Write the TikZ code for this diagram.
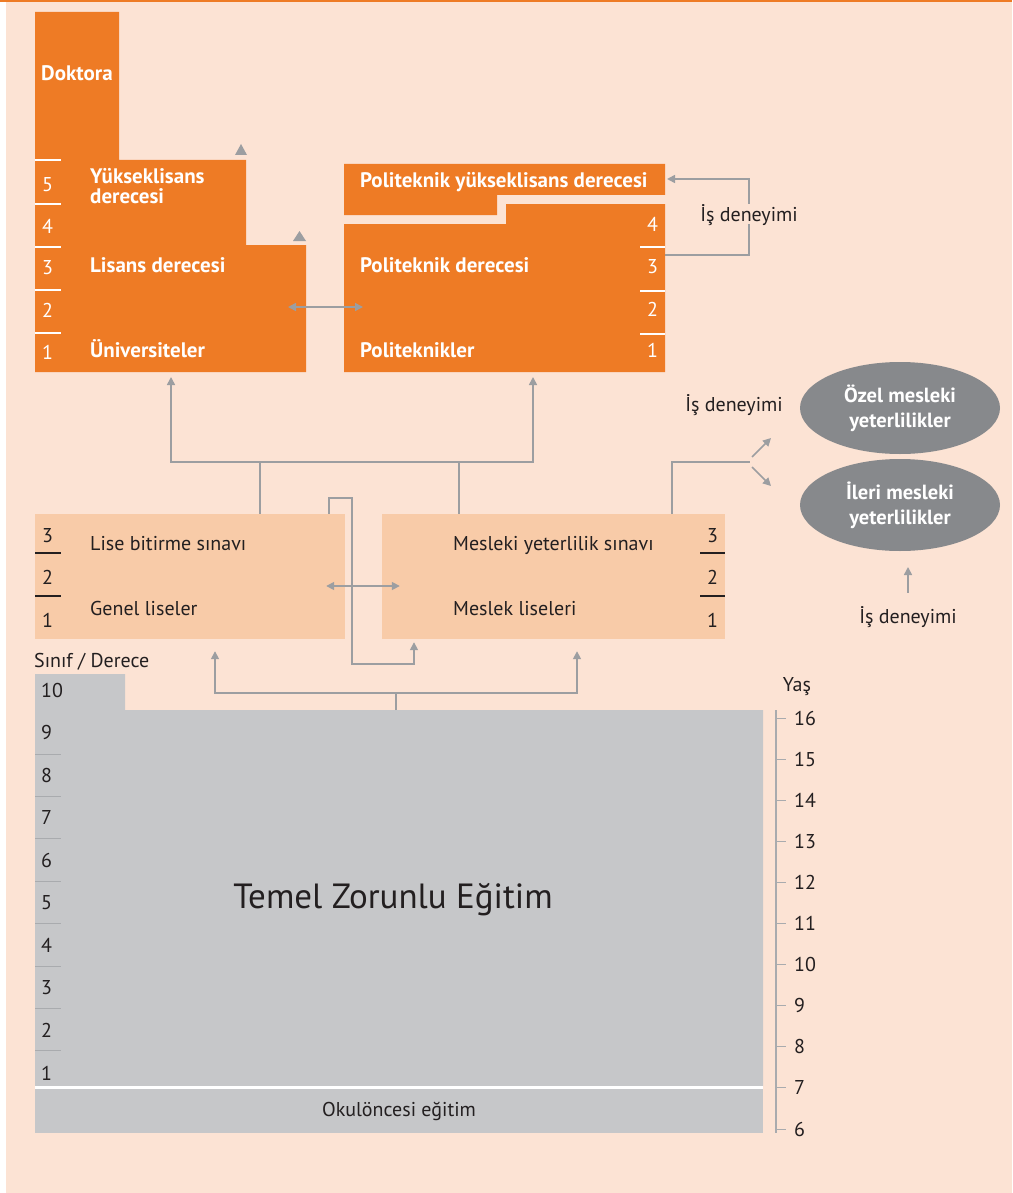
\documentclass[tikz,border=0pt]{standalone}
\usepackage{fontspec}
\setmainfont{PT Sans}
\usetikzlibrary{arrows.meta, shapes.geometric}

\definecolor{peach}{HTML}{FCE3D4}
\definecolor{orng}{HTML}{EE7B25}
\definecolor{lpeach}{HTML}{F8CBA8}
\definecolor{lgray}{HTML}{C6C7C9}
\definecolor{dgray}{HTML}{87898C}
\definecolor{wiregray}{HTML}{9C9EA1}
\definecolor{tickgray}{HTML}{A9ABAE}
\definecolor{ink}{HTML}{231F20}

\begin{document}
\begin{tikzpicture}[x=1pt, y=-1pt,
  wireline/.style={draw=wiregray, line width=1.6pt},
  arr/.style={wireline, -{Triangle[length=8pt, width=8pt]}},
  darr/.style={wireline, {Triangle[length=8pt, width=8pt]}-{Triangle[length=8pt, width=8pt]}},
  txt/.style={font=\fontsize{20}{22}\selectfont, text=ink, inner sep=0pt, text height=14pt, text depth=0pt},
  wtxt/.style={txt, text=white, font=\bfseries\fontsize{21}{22}\selectfont},
  num/.style={txt, anchor=west},
  wnum/.style={num, text=white},
  gapnode/.style={txt, inner sep=3pt},
  lisebox/.style={fill=lpeach, inner sep=0pt, minimum height=125pt},
  oval/.style={ellipse, fill=dgray, minimum width=200pt, minimum height=92pt, inner sep=0pt,
    text=white, align=center, font=\bfseries\fontsize{20.5}{25}\selectfont}]
\useasboundingbox (0,0) rectangle (1012,1193);
\fill[peach] (6,0) rectangle (1012,1193);
\draw[orng, line width=2pt] (0,1) -- (1012,1);

\fill[orng] (35,12) -- (119,12) -- (119,160) -- (246,160) -- (246,245) -- (306,245) -- (306,372) -- (35,372) -- cycle;
\foreach \y in {160,204,247,290,333}
  \draw[white, line width=1.3pt] (35,\y) -- (61,\y);
\foreach \n/\y in {5/184,4/226,3/267,2/310,1/352}
  \node[wnum] (u\n) at (42,\y) {\n};
\node[wtxt, anchor=west] (dok) at (41,74) {Doktora};
\node[text=white, inner sep=0pt, anchor=west, align=left, font=\bfseries\fontsize{21}{20}\selectfont] (ylis) at (90,186) {Yükseklisans\\derecesi};
\node[wtxt, anchor=west] (lis) at (90,265) {Lisans derecesi};
\node[wtxt, anchor=west] (uni) at (90,350) {Üniversiteler};
\fill[wiregray] (235,155) -- (247,155) -- (241,144) -- cycle;
\fill[wiregray] (293,241) -- (306,241) -- (299.5,231) -- cycle;

\fill[orng] (344,164) -- (665,164) -- (665,195) -- (497,195) -- (497,215) -- (344,215) -- cycle;
\fill[orng] (344,224) -- (506,224) -- (506,204) -- (665,204) -- (665,372) -- (344,372) -- cycle;
\foreach \y in {247,291,334}
  \draw[white, line width=1.3pt] (640,\y) -- (665,\y);
\foreach \n/\y in {4/224,3/266,2/309,1/350}
  \node[wnum] (p\n) at (647,\y) {\n};
\node[wtxt, anchor=west] (pyl) at (360,181) {Politeknik yükseklisans derecesi};
\node[wtxt, anchor=west] (pder) at (360,265) {Politeknik derecesi};
\node[wtxt, anchor=west] (pol) at (360,350) {Politeknikler};

\coordinate (uniB) at (171,377);
\coordinate (polB) at (533,377);
\coordinate (uniIn) at (288,307);
\coordinate (polIn) at (363,307);
\coordinate (polR) at (665,255);
\coordinate (polTop) at (667,179);
\node[gapnode] (isd1) at (749,214) {İş deneyimi};
\draw[arr] (polR) -| (isd1) |- (polTop);
\draw[darr] (uniIn) -- (polIn);

\node[lisebox, minimum width=310pt] (gen) at (190,576.5) {};
\node[lisebox, minimum width=343pt] (mes) at (553.5,576.5) {};
\foreach \y in {553,596} {
  \draw[ink, line width=1.2pt] (35,\y) -- (61,\y);
  \draw[ink, line width=1.2pt] (700,\y) -- (725,\y);
}
\foreach \n/\y in {3/535,2/577,1/620} {
  \node[num] (g\n) at (42,\y) {\n};
  \node[num] (m\n) at (707,\y) {\n};
}
\node[txt, anchor=west] (lbs) at (90,543) {Lise bitirme sınavı};
\node[txt, anchor=west] (gl) at (90,608) {Genel liseler};
\node[txt, anchor=west] (mys) at (453,543) {Mesleki yeterlilik sınavı};
\node[txt, anchor=west] (ml) at (453,608) {Meslek liseleri};

\coordinate (upL) at (171,462);
\coordinate (upR) at (533,462);
\coordinate (gS) at ([xshift=70pt]gen.north);
\coordinate (mS) at ([xshift=-94.5pt]mes.north);
\draw[wireline] (gS) -- (gS |- upL);
\draw[wireline] (mS) -- (mS |- upL);
\draw[arr] (upR) -| (uniB);
\draw[arr] (upL) -| (polB);

\coordinate (gC) at ([xshift=139pt]gen.north);
\coordinate (mC) at ([xshift=-139.5pt]mes.south);
\coordinate (crossTop) at (352,498);
\coordinate (crossBot) at (352,664);
\draw[arr, shorten >=3pt] (gC) |- (crossTop) -- (crossBot) -| (mC);
\draw[darr] ([shift={(-19pt,-9.5pt)}]gen.east) -- ([shift={(18pt,-9.5pt)}]mes.west);

\coordinate (mO) at ([xshift=118.5pt]mes.north);
\coordinate (fork) at (750,462);
\draw[wireline] (mO) |- (fork);
\draw[arr] ([shift={(2pt,5pt)}]fork) -- ([shift={(21pt,24pt)}]fork);
\draw[arr] ([shift={(2pt,-5pt)}]fork) -- ([shift={(21pt,-24pt)}]fork);

\node[oval] (ozel) at (900,408) {Özel mesleki\\yeterlilikler};
\node[oval] (ileri) at (900,505) {İleri mesleki\\yeterlilikler};
\node[txt] (isd2) at (734,404) {İş deneyimi};
\node[txt] (isd3) at (908,616) {İş deneyimi};
\coordinate (ileriU) at (908,567);
\draw[arr, shorten <=16pt] (isd3) -- (ileriU);

\node[txt, anchor=west] (sinif) at (34,660) {Sınıf / Derece};
\fill[lgray] (35,674) -- (125,674) -- (125,710) -- (763,710) -- (763,1086) -- (35,1086) -- cycle;
\fill[white] (35,1086) rectangle (763,1089);
\node[fill=lgray, minimum width=728pt, minimum height=44pt, inner sep=0pt, text=ink,
  font=\fontsize{20}{22}\selectfont] (okul) at (399,1111) {Okulöncesi eğitim};
\foreach \i in {0,...,7}
  \draw[tickgray, line width=1pt] (35,{754+42.4*\i}) -- (61,{754+42.4*\i});
\foreach \n in {1,...,10}
  \node[num] (c\n) at (41,{1073-42.55*(\n-1)}) {\n};
\node[text=ink, font=\fontsize{35}{40}\selectfont] (temel) at (393,900) {Temel Zorunlu Eğitim};

\coordinate (baseT) at (396,710);
\coordinate (dnL) at (215,693);
\coordinate (dnR) at (577,693);
\draw[wireline] (baseT) -- (baseT |- dnL);
\draw[arr, shorten >=12pt] (dnR) -| (dnL |- gen.south);
\draw[arr, shorten >=12pt] (dnL) -| (dnR |- mes.south);

\node[txt] (yas) at (797,684) {Yaş};
\draw[tickgray, line width=1.2pt] (776,710) -- (776,1133);
\foreach \a in {6,...,16} {
  \draw[tickgray, line width=1pt] (776,{1129-41.1*(\a-6)}) -- (786,{1129-41.1*(\a-6)});
  \node[num] (a\a) at (794,{1129-41.1*(\a-6)}) {\a};
}
\end{tikzpicture}
\end{document}
